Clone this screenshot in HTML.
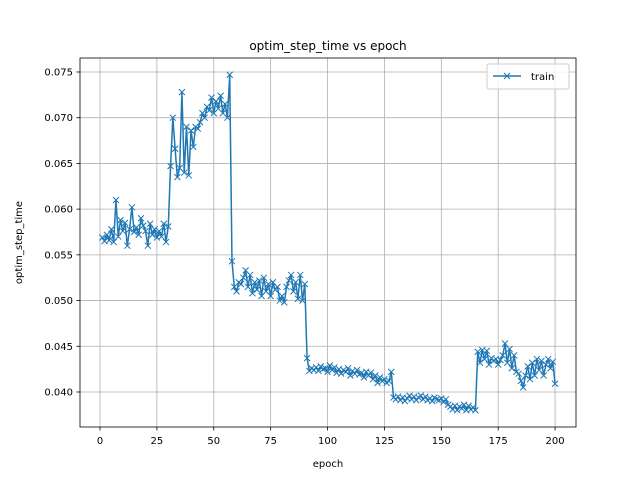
<!DOCTYPE html>
<html><head><meta charset="utf-8"><style>body{margin:0;background:#fff}svg{display:block;font-family:"DejaVu Sans","Liberation Sans",sans-serif}</style></head>
<body>
<svg id="chart" width="640" height="480" viewBox="0 0 640 480"></svg>
<script>
const xTicks=[0,25,50,75,100,125,150,175,200];
const yTicks=[0.040,0.045,0.050,0.055,0.060,0.065,0.070,0.075];
const yTickLabels=["0.040","0.045","0.050","0.055","0.060","0.065","0.070","0.075"];
const trainValues=[
0.0569,0.0565,0.0572,0.0566,0.0578,0.0564,0.0610,0.0570,0.0588,0.0576,0.0585,0.0560,0.0578,0.0602,0.0575,0.0580,0.0572,0.0590,0.0582,0.0576,0.0560,0.0584,0.0572,0.0578,0.0569,0.0576,0.0570,0.0584,0.0564,0.0581,
0.0647,0.0700,0.0666,0.0635,0.0645,0.0728,0.0640,0.0690,0.0637,0.0686,0.0668,0.0690,0.0688,0.0695,0.0705,0.0700,0.0712,0.0708,0.0722,0.0705,0.0718,0.0710,0.0724,0.0705,0.0715,0.0700,0.0747,
0.0543,0.0515,0.0510,0.0520,0.0518,0.0525,0.0533,0.0515,0.0528,0.0508,0.0520,0.0512,0.0522,0.0505,0.0525,0.0510,0.0518,0.0505,0.0520,0.0512,0.0515,0.0500,0.0505,0.0498,0.0515,0.0522,0.0528,0.0510,0.0520,0.0502,0.0528,0.0500,0.0518,
0.0437,0.0423,0.0426,0.0424,0.0427,0.0423,0.0428,0.0425,0.0426,0.0422,0.0429,0.0424,0.0427,0.0421,0.0425,0.0420,0.0424,0.0422,0.0426,0.0418,0.0423,0.0420,0.0424,0.0419,0.0421,0.0416,0.0422,0.0418,0.0421,0.0414,0.0418,0.0410,0.0416,0.0412,0.0414,0.0410,0.0412,0.0422,
0.0394,0.0392,0.0395,0.0391,0.0394,0.0390,0.0393,0.0396,0.0392,0.0395,0.0391,0.0394,0.0396,0.0392,0.0395,0.0391,0.0393,0.0390,0.0394,0.0392,0.0391,0.0393,0.0389,0.0392,0.0386,0.0384,0.0381,0.0385,0.0380,0.0384,0.0382,0.0386,0.0380,0.0385,0.0381,0.0383,0.0380,
0.0444,0.0432,0.0446,0.0436,0.0445,0.0430,0.0437,0.0434,0.0436,0.0430,0.0435,0.0440,0.0453,0.0432,0.0447,0.0426,0.0440,0.0422,0.0420,0.0412,0.0405,0.0418,0.0428,0.0414,0.0432,0.0418,0.0436,0.0424,0.0434,0.0418,0.0430,0.0436,0.0426,0.0433,0.0409];
const epochs=trainValues.map((v,i)=>i+1);

const NS="http://www.w3.org/2000/svg";
const svg=document.getElementById('chart');
const L=80,R=576,T=58,B=427;
const xMin=-8.8,xMax=209.2,yMin=0.03617,yMax=0.07653;
const sx=x=>L+(x-xMin)/(xMax-xMin)*(R-L);
const sy=y=>B-(y-yMin)/(yMax-yMin)*(B-T);
function mk(tag,attrs,parent){const e=document.createElementNS(NS,tag);for(const k in attrs)e.setAttribute(k,attrs[k]);(parent||svg).appendChild(e);return e;}

const grid=mk('g',{});


const xAxis=mk('g',{});


xTicks.forEach(t=>{
  const x=sx(t);
  mk('line',{x1:x,x2:x,y1:T,y2:B,stroke:'#b0b0b0','stroke-width':0.8},grid);
  mk('line',{x1:x,x2:x,y1:B,y2:B+3.5,stroke:'#000','stroke-width':0.8},xAxis);
  const tx=mk('text',{x:x,y:B+17,'font-size':10,'text-anchor':'middle',fill:'#000'},xAxis);
  tx.textContent=t;
  
  
});
const yAxis=mk('g',{});


yTicks.forEach((t,i)=>{
  const y=sy(t);
  mk('line',{x1:L,x2:R,y1:y,y2:y,stroke:'#b0b0b0','stroke-width':0.8},grid);
  mk('line',{x1:L-3.5,x2:L,y1:y,y2:y,stroke:'#000','stroke-width':0.8},yAxis);
  const tx=mk('text',{x:L-7,y:y+3.5,'font-size':10,'text-anchor':'end',fill:'#000'},yAxis);
  tx.textContent=yTickLabels[i];
  
  
});

const series=mk('g',{});


const pts=trainValues.map((v,i)=>sx(epochs[i]).toFixed(2)+','+sy(v).toFixed(2)).join(' ');
const line=mk('polyline',{points:pts,fill:'none',stroke:'#1f77b4','stroke-width':1.5,'stroke-linejoin':'round'},series);


trainValues.forEach((v,i)=>{
  const x=sx(epochs[i]),y=sy(v),d=3;
  const p=mk('path',{d:`M${x-d},${y-d}L${x+d},${y+d}M${x-d},${y+d}L${x+d},${y-d}`,stroke:'#1f77b4','stroke-width':1},series);
  
  
});

const frame=mk('rect',{x:L,y:T,width:R-L,height:B-T,fill:'none',stroke:'#000','stroke-width':0.8});



const title=mk('text',{x:(L+R)/2,y:50,'font-size':12,'text-anchor':'middle'});
title.textContent='optim_step_time vs epoch';


const xl=mk('text',{x:(L+R)/2,y:467,'font-size':10,'text-anchor':'middle'});
xl.textContent='epoch';


const yl=mk('text',{x:0,y:0,'font-size':10,'text-anchor':'middle',transform:`translate(22,${(T+B)/2}) rotate(-90)`});
yl.textContent='optim_step_time';



const lg=mk('g',{});


mk('rect',{x:487,y:64,width:82,height:25,rx:2,fill:'#fff','fill-opacity':0.8,stroke:'#ccc','stroke-width':1},lg);
mk('line',{x1:493,x2:521,y1:76,y2:76,stroke:'#1f77b4','stroke-width':1.5},lg);
mk('path',{d:'M504,73L510,79M504,79L510,73',stroke:'#1f77b4','stroke-width':1},lg);
const lt=mk('text',{x:531,y:80,'font-size':10},lg);
lt.textContent='train';


</script>
</body></html>
